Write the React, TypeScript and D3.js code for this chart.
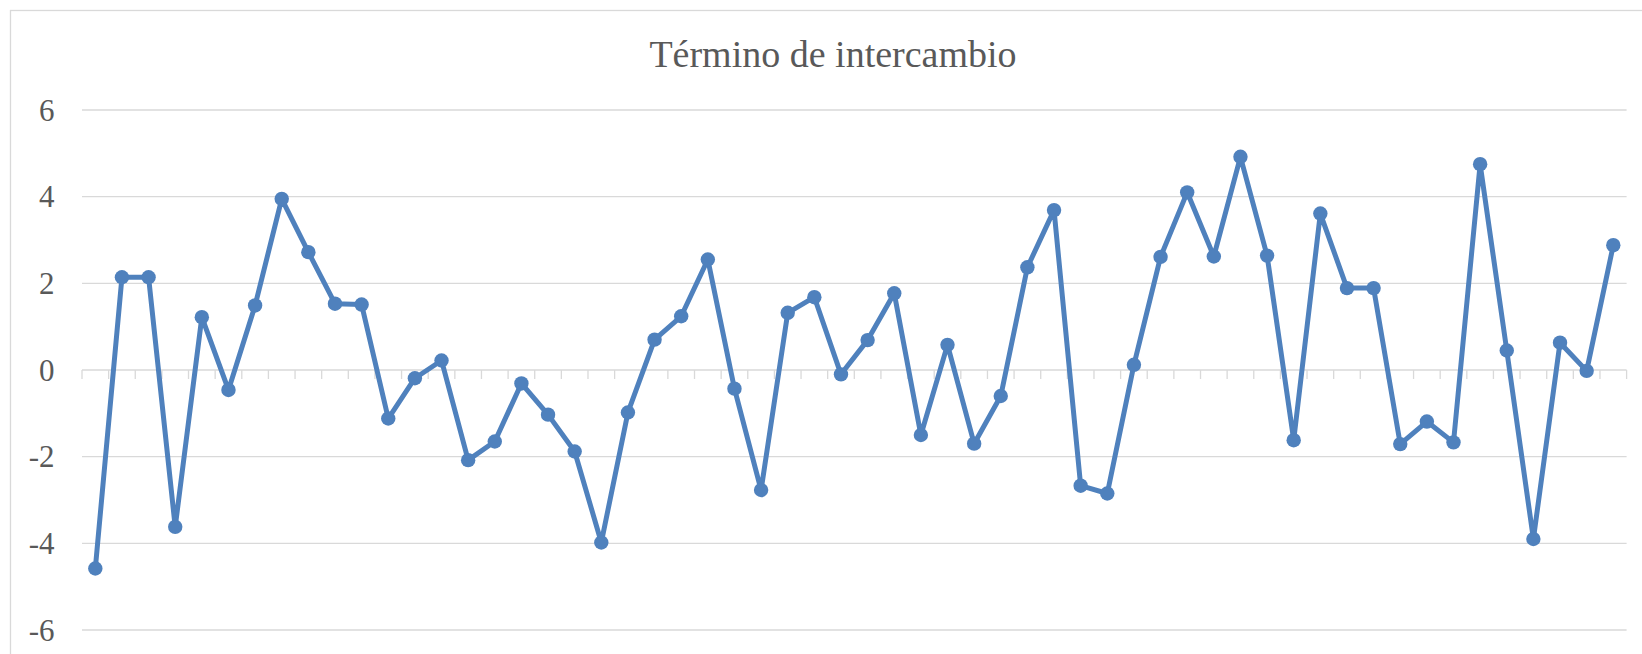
import React from "react";
import * as d3 from "d3";

const title = "Término de intercambio";

const values = [
  -4.58, 2.14, 2.14, -3.62, 1.22, -0.46, 1.49, 3.95, 2.72, 1.53,
  1.51, -1.12, -0.19, 0.22, -2.08, -1.65, -0.31, -1.03, -1.88, -3.98,
  -0.98, 0.7, 1.24, 2.55, -0.43, -2.77, 1.32, 1.68, -0.1, 0.69,
  1.77, -1.5, 0.58, -1.7, -0.6, 2.37, 3.69, -2.67, -2.85, 0.12,
  2.61, 4.1, 2.62, 4.92, 2.64, -1.62, 3.61, 1.89, 1.89, -1.71,
  -1.19, -1.67, 4.75, 0.45, -3.9, 0.63, -0.02, 2.88,
];

const yTicks = [-6, -4, -2, 0, 2, 4, 6];

const W = 1642;
const H = 654;
const plot = { left: 82, right: 1626.6, top: 110, bottom: 630 };
const font = "'Liberation Serif', 'Times New Roman', serif";
const blue = "#4f81bd";
const grid = "#d9d9d9";
const textColor = "#595959";

const App = () => {
  const x = d3
    .scaleBand<number>()
    .domain(values.map((_, i) => i))
    .range([plot.left, plot.right])
    .padding(0);

  const y = d3.scaleLinear().domain([-6, 6]).range([plot.bottom, plot.top]);

  const cx = (i: number) => (x(i) as number) + x.bandwidth() / 2;

  const line = d3
    .line<number>()
    .x((_, i) => cx(i))
    .y(d => y(d));

  // category boundaries, where Excel puts its tick marks
  const boundaries = d3.range(values.length + 1).map(i => plot.left + i * x.bandwidth());

  return (
    <svg
      width={W}
      height={H}
      style={{ position: "absolute", left: 0, top: 0, background: "#fff" }}
    >
      <rect x={10.5} y={10.5} width={1660} height={700} fill="#fff" stroke={grid} strokeWidth={1.3} />

      <text
        x={833}
        y={66.5}
        textAnchor="middle"
        fontFamily={font}
        fontSize={38}
        fill={textColor}
      >
        {title}
      </text>

      {yTicks.map(t => (
        <g key={t}>
          <line x1={plot.left} x2={plot.right} y1={y(t)} y2={y(t)} stroke={grid} strokeWidth={1.3} />
          <text
            x={54.5}
            y={y(t)}
            dy="0.34em"
            textAnchor="end"
            fontFamily={font}
            fontSize={31}
            fill={textColor}
          >
            {t}
          </text>
        </g>
      ))}

      {boundaries.map((bx, i) => (
        <line key={i} x1={bx} x2={bx} y1={y(0)} y2={y(0) + 9} stroke={grid} strokeWidth={1.3} />
      ))}

      <path d={line(values) ?? ""} fill="none" stroke={blue} strokeWidth={5} strokeLinejoin="round" />

      {values.map((v, i) => (
        <circle key={i} cx={cx(i)} cy={y(v)} r={7.2} fill={blue} />
      ))}
    </svg>
  );
};

export default App;
